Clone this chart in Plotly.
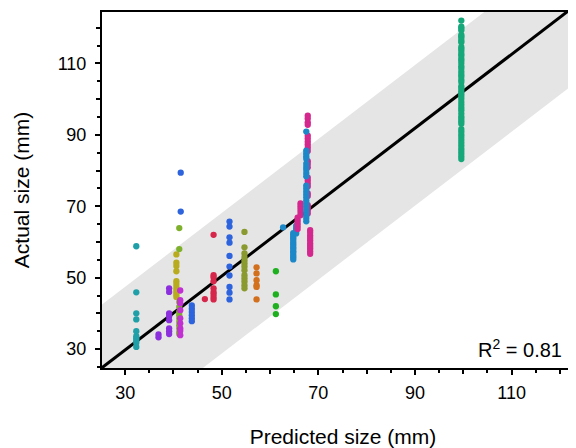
import plotly.graph_objects as go

# ---- data (predicted size, actual sizes) ----
cyan_x = 32.3
cyan_y = [58.8, 45.9, 40.0, 38.3, 35.0, 33.6, 33.0, 32.4, 31.8, 30.6]
purpleA_x = 36.9
purpleA_y = [34.1, 33.3]
purpleB_x = 39.1
purpleB_y = [47.0, 46.0, 40.0, 39.2, 38.1, 35.8, 35.0, 34.2]
violet_x = 41.4
violet_y = [46.4, 43.7, 42.8, 40.9, 38.6, 37.2, 35.8, 35.1, 33.9]
mustard_x = 40.6
mustard_y = [56.5, 54.2, 53.3, 51.8, 49.0, 48.2, 47.4, 46.6, 45.9, 45.2, 44.6]
lime_x = 41.2
lime_y = [63.9, 58.0, 43.2, 41.8, 40.4, 39.5, 38.6, 37.6, 36.7, 35.8, 34.8, 34.2]
blueA_x = 41.5
blueA_y = [79.4, 68.5]
blueB_x = 43.8
blueB_y = [42.2, 41.3, 40.4, 39.5, 38.6, 37.8]
redA_x = 46.5
redA_y = [44.0]
redB_x = 48.3
redB_y = [62.0, 50.7, 50.1, 49.0, 47.0, 46.0, 45.4, 44.6, 43.9]
blueC_x = 51.6
blueC_y = [65.7, 64.3, 61.3, 59.8, 56.1, 53.1, 50.6, 47.4, 45.8, 43.9]
olive_x = 54.7
olive_y = [62.8, 58.5, 56.8, 55.8, 54.9, 54.0, 53.1, 52.1, 50.7, 49.8, 48.9, 47.9, 47.0]
orange_x = 57.2
orange_y = [52.9, 51.2, 49.3, 47.9, 47.4, 43.9]
green_x = 61.2
green_y = [51.8, 45.3, 42.0, 39.8]
ceruA_x = 62.7
ceruA_y = [64.1]
ceruB_x = 64.8
ceruB_y = [62.5, 62.0, 61.4, 60.9, 60.3, 59.7, 59.2, 58.6, 58.1, 57.4, 56.9, 56.3, 55.7, 55.1]
ceruC_x = 65.4
ceruC_y = [64.5, 63.8, 63.1, 62.4]
ceruD_x = 67.5
ceruD_y = [90.9, 85.6, 84.8, 84.0, 83.3, 81.9, 81.0, 80.2, 79.3, 78.4, 75.8, 75.0,
           74.1, 73.3, 72.5, 71.6, 70.8, 70.0, 69.1, 68.3, 67.5, 66.7, 65.8]
pinkA_x = 65.7
pinkA_y = [66.8, 66.0, 65.2, 64.4, 63.6]
pinkB_x = 66.3
pinkB_y = [70.8, 70.0, 69.2, 68.4, 67.5]
pinkC_x = 67.8
pinkC_y = [95.4, 94.6, 93.5, 92.8, 89.8, 89.0, 88.1, 87.3, 86.4, 85.5, 82.6, 81.8,
           80.9, 78.0, 77.2, 76.3, 75.5, 73.6, 72.9, 70.3, 69.6, 68.8, 68.0]
pinkD_x = 68.3
pinkD_y = [63.3, 62.6, 61.8, 61.1, 60.4, 59.6, 58.9, 58.2, 57.4, 56.7]
jade_x = 99.6
jade_y = [122.0, 120.3, 119.9, 119.3, 118.0, 117.6, 117.1, 116.4, 115.9, 114.6, 114.1,
          113.5, 112.7, 112.2, 111.4, 110.8, 110.1, 109.2, 108.6, 107.7, 106.9, 106.3,
          105.4, 104.8, 103.6, 103.0, 102.2, 101.5, 100.9, 100.1, 99.2, 98.4, 97.6,
          96.9, 96.0, 95.1, 94.5, 93.8, 93.1, 91.6, 90.9, 90.1, 89.4, 88.6, 87.8,
          87.0, 86.2, 85.5, 84.7, 83.9, 83.2]

# fit line and band
fit_slope = 1.035
fit_intercept = -1.3
band_upper = 17.7
band_lower = -21.7
r2_text = "R<sup>2</sup> = 0.81"

# axis ticks
labelled_ticks = [30, 50, 70, 90, 110]
unlabelled_ticks = [40, 60, 80, 100, 120]

x_range = [25.2, 125.0]
y_range = [24.7, 124.4]

groups = [
    (cyan_x, cyan_y, "#1fa0a8"),
    (purpleA_x, purpleA_y, "#8c2fdc"),
    (purpleB_x, purpleB_y, "#8c2fdc"),
    (mustard_x, mustard_y, "#b8ac1e"),
    (lime_x, lime_y, "#7fb02c"),
    (violet_x, violet_y, "#c22fd2"),
    (blueA_x, blueA_y, "#2d63dc"),
    (blueB_x, blueB_y, "#2d63dc"),
    (redA_x, redA_y, "#d6264a"),
    (redB_x, redB_y, "#d6264a"),
    (blueC_x, blueC_y, "#2d63dc"),
    (olive_x, olive_y, "#8a9a2e"),
    (orange_x, orange_y, "#d2701e"),
    (green_x, green_y, "#1fb01f"),
    (ceruA_x, ceruA_y, "#1c88c8"),
    (ceruB_x, ceruB_y, "#1c88c8"),
    (ceruC_x, ceruC_y, "#1c88c8"),
    (pinkA_x, pinkA_y, "#d4288e"),
    (pinkB_x, pinkB_y, "#d4288e"),
    (pinkC_x, pinkC_y, "#d4288e"),
    (ceruD_x, ceruD_y, "#1c88c8"),
    (pinkD_x, pinkD_y, "#d4288e"),
    (jade_x, jade_y, "#17a87a"),
]

fig = go.Figure()

# grey band
bx = [x_range[0], x_range[1], x_range[1], x_range[0], x_range[0]]
by = [fit_slope * x_range[0] + fit_intercept + band_upper,
      fit_slope * x_range[1] + fit_intercept + band_upper,
      fit_slope * x_range[1] + fit_intercept + band_lower,
      fit_slope * x_range[0] + fit_intercept + band_lower,
      fit_slope * x_range[0] + fit_intercept + band_upper]
fig.add_trace(go.Scatter(x=bx, y=by, fill="toself", fillcolor="#e5e5e5",
                         line=dict(width=0), mode="lines", hoverinfo="skip",
                         showlegend=False))

# fit line
lx = [x_range[0], x_range[1]]
ly = [fit_slope * v + fit_intercept for v in lx]
fig.add_trace(go.Scatter(x=lx, y=ly, mode="lines",
                         line=dict(color="black", width=3), showlegend=False))

for gx, gy, col in groups:
    fig.add_trace(go.Scatter(x=[gx] * len(gy), y=gy, mode="markers",
                             marker=dict(color=col, size=6.3, line=dict(width=0)),
                             showlegend=False))

# invisible trace so the overlay axes (unlabelled long ticks) are drawn
fig.add_trace(go.Scatter(x=[x_range[0]], y=[y_range[0]], xaxis="x2", yaxis="y2",
                         mode="markers", marker=dict(opacity=0), hoverinfo="skip",
                         showlegend=False))

font_family = "Liberation Sans, Arial, Helvetica, sans-serif"

axis_common = dict(
    showgrid=False, zeroline=False, showline=True, linecolor="black", linewidth=2,
    ticks="outside", ticklen=5, tickwidth=2, tickcolor="black",
    tickvals=labelled_ticks,
    tickfont=dict(size=18, color="black", family=font_family),
    minor=dict(dtick=5, tick0=0, ticks="outside", ticklen=3, tickwidth=2, tickcolor="black"),
)
overlay_common = dict(
    showgrid=False, zeroline=False, showline=False, showticklabels=False,
    ticks="outside", ticklen=5, tickwidth=2, tickcolor="black",
    tickvals=unlabelled_ticks,
)

# page body has an 8px margin, so the figure is laid out shifted by 8px
fig.update_layout(
    width=576, height=448,
    margin=dict(l=94, r=0, t=4, b=88),
    plot_bgcolor="white", paper_bgcolor="white",
    font=dict(family=font_family, color="black"),
    xaxis=dict(range=x_range, mirror=True,
               title=dict(text="Predicted size (mm)", font=dict(size=21), standoff=28),
               ticklabelstandoff=2,
               **axis_common),
    yaxis=dict(range=y_range,
               title=dict(text="Actual size (mm)", font=dict(size=21), standoff=22),
               ticklabelstandoff=5,
               **axis_common),
    xaxis2=dict(range=x_range, overlaying="x", anchor="y2", side="bottom", **overlay_common),
    yaxis2=dict(range=y_range, overlaying="y", anchor="x2", side="left", **overlay_common),
    showlegend=False,
)

fig.add_annotation(text=r2_text, xref="paper", yref="paper", x=0.959, y=0.056,
                   xanchor="right", yanchor="middle", showarrow=False,
                   font=dict(size=20, color="black", family=font_family))

fig.write_html("out.html")
